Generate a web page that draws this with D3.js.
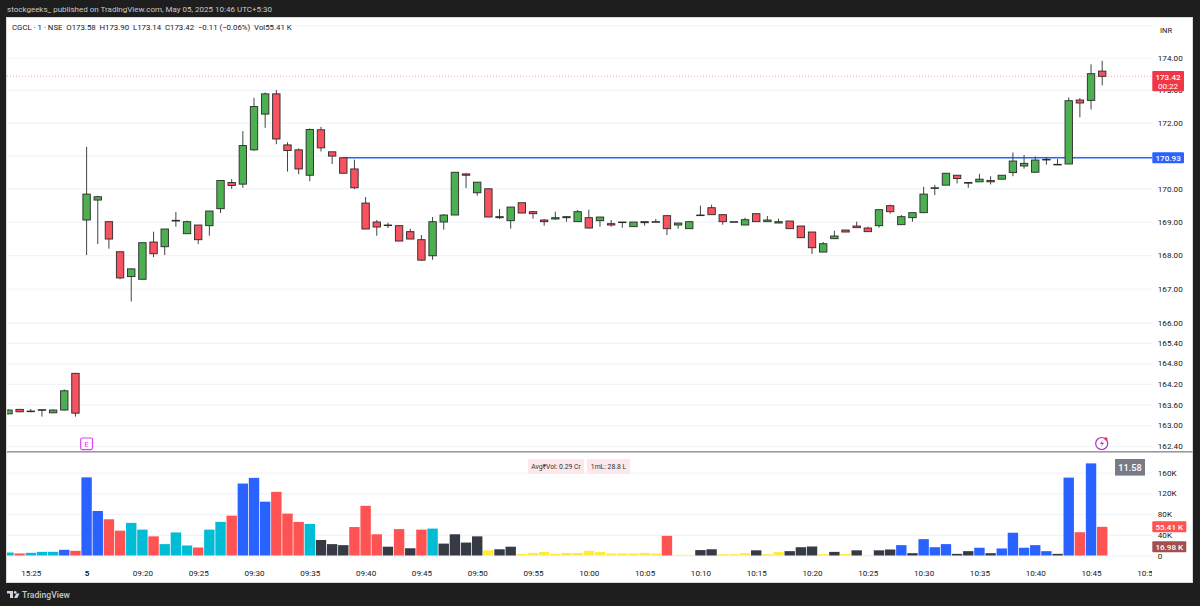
<!DOCTYPE html>
<html><head><meta charset="utf-8">
<script src="https://cdn.jsdelivr.net/npm/d3@7/dist/d3.min.js"></script>
<style>html,body{margin:0;padding:0;background:#1e1e1e;overflow:hidden}svg{display:block}text{font-family:Roboto,"Open Sans",sans-serif}</style>
</head><body><svg id="c" width="1200" height="606"></svg>
<script>
// bars start seven minutes before the 09:15 open of May 5
const opens=[163.33,163.46,163.41,163.45,163.36,163.44,164.51,
169.05,169.65,169.00,168.10,167.36,167.28,168.39,168.25,169.02,168.64,168.90,168.88,169.39,170.18,170.13,171.17,172.26,172.88,171.32,171.17,
170.40,171.78,171.11,170.93,170.59,169.56,168.99,168.90,168.88,168.70,168.46,167.98,168.99,169.20,170.44,169.87,169.99,169.12,169.03,169.57,
169.30,169.05,169.08,169.12,169.00,169.12,169.03,168.94,168.99,168.85,168.97,168.99,169.18,168.90,168.79,169.20,169.42,169.21,169.00,168.90,
169.24,169.00,168.96,169.02,168.87,168.69,168.09,168.49,168.75,168.87,168.81,168.88,169.48,168.91,169.12,169.27,170.02,170.10,170.40,170.18,
170.20,170.24,170.28,170.48,170.68,170.49,170.88,170.73,170.74,172.69,172.68,173.58];
const highs=[163.46,163.47,163.47,163.46,163.46,164.04,164.52,
171.26,169.78,169.00,168.10,167.60,168.37,168.70,168.78,169.29,169.03,168.90,169.32,170.24,170.28,171.74,172.76,172.92,173.00,171.40,171.21,
171.82,171.87,171.11,170.93,170.87,169.74,169.05,168.97,168.88,168.79,168.60,169.14,169.23,170.49,170.45,170.19,169.99,169.38,169.44,169.57,
169.32,169.08,169.30,169.16,169.35,169.36,169.14,169.05,168.99,168.99,169.00,169.08,169.18,168.96,169.00,169.48,169.51,169.21,169.00,169.12,
169.24,169.17,169.09,169.02,168.87,168.69,168.39,168.73,168.75,169.00,168.85,169.36,169.51,169.20,169.27,170.05,170.11,170.46,170.40,170.18,
170.44,170.37,170.40,171.09,171.01,170.97,170.95,170.89,172.77,172.75,173.79,173.90];
const lows=[163.32,163.38,163.38,163.25,163.35,163.43,163.25,
168.00,168.33,168.19,167.28,166.62,167.28,167.94,168.00,168.85,168.64,168.33,168.58,169.26,169.99,170.02,171.14,171.84,171.34,170.51,170.43,
170.22,171.12,170.74,170.46,169.98,168.78,168.58,168.81,168.42,168.48,167.83,167.86,168.76,169.20,170.01,169.78,169.14,169.08,168.79,169.26,
169.09,168.88,169.06,169.00,169.00,168.79,168.85,168.85,168.82,168.85,168.88,168.99,168.60,168.79,168.79,169.20,169.21,168.91,169.00,168.90,
169.00,169.00,168.96,168.79,168.52,168.03,168.09,168.49,168.69,168.82,168.70,168.82,169.24,168.91,169.00,169.27,169.80,170.10,170.15,170.02,
170.20,170.12,170.28,170.37,170.60,170.49,170.72,170.73,170.74,172.16,172.40,173.14];
const closes=[163.44,163.39,163.41,163.45,163.44,164.00,163.35,
169.83,169.75,168.48,167.32,167.59,168.37,168.04,168.78,169.04,169.00,168.46,169.32,170.24,170.09,171.30,172.49,172.88,171.50,171.15,170.59,
171.79,171.23,170.98,170.46,170.02,168.78,168.84,168.90,168.42,168.48,167.85,169.00,169.20,170.49,170.40,170.19,169.14,169.15,169.44,169.26,
169.24,169.00,169.12,169.15,169.30,168.81,169.14,168.90,168.99,168.99,169.00,169.00,168.79,168.96,169.00,169.20,169.21,169.00,169.00,169.06,
169.00,169.05,169.00,168.79,168.52,168.22,168.34,168.57,168.69,168.82,168.70,169.36,169.30,169.15,169.27,169.83,170.02,170.46,170.30,170.16,
170.28,170.20,170.40,170.83,170.76,170.86,170.88,170.73,172.67,172.60,173.50,173.42];
const volumes=[5.8,3.9,5.2,7.1,7.1,11,9,
151,86,70,48,63,50,37,22,44.5,19.4,15.5,50,65,77,139,150,104,123,81,65,
61,30,22,20,55,96,41,17,51,14,50,52,23,41,25,37,10,12,17,
3.2,5,7,3.2,5,5,9,7,3.9,3.9,3.9,5,3.9,38,1.3,1.3,10.5,
12,2.6,2.6,4.5,10,2.6,6.5,8.4,16,17.4,2.6,7,3.2,10,0.6,10,11.6,
20,4.5,31.6,16,22,3.2,8.4,15,4.5,13.6,44,15,20,8.4,3.2,150.5,45,178,55.41];
const volumeClass=["mid","sell","mid","mid","mid","surge","sell",
"surge","surge","sell","sell","mid","mid","sell","mid","mid","mid","sell","mid","mid","sell","surge","surge","surge","sell","sell","sell",
"mid","low","low","low","sell","sell","sell","low","sell","low","sell","mid","low","low","low","low","thin","low","low",
"thin","thin","thin","thin","thin","thin","thin","thin","thin","thin","thin","thin","thin","sell","thin","thin","low",
"low","thin","thin","thin","low","thin","thin","low","low","low","thin","low","thin","low","thin","low","low",
"surge","low","surge","surge","surge","low","low","surge","low","surge","surge","surge","surge","surge","low","surge","sell","surge","sell"];
const priceLabels=[174,172,170,169,168,167,166,165.4,164.8,164.2,163.6,163,162.4];
const priceGrid=[175,174,173,172,171,170,169,168,167,166,165.4,164.8,164.2,163.6,163,162.4];
const hiddenLabelPrices=[173];
const volumeTicks=[0,40,80,120,160];
const timeTicks=[-5,0,5,10,15,20,25,30,35,40,45,50,55,60,65,70,75,80,85,90,95];
const timeLabels=["15:25","5","09:20","09:25","09:30","09:35","09:40","09:45","09:50","09:55","10:00","10:05","10:10","10:15","10:20","10:25","10:30","10:35","10:40","10:45","10:50"];
const levelPrice=170.93, levelStart=23, lastPrice=173.42, lastVolume=55.41, avgVolume=16.98;

const C={bg:"#1e1e1e",text:"#131722",grid:"#f0f3fa",up:"#4caf50",down:"#f7525f",wick:"#444",
 border:"#2a2a2a",blue:"#2962ff",tag:"#f23645"};
const volColor={surge:"#2962ff",sell:"#ff5252",mid:"#00bcd4",low:"#363a45",thin:"#ffeb3b"};
const AXF=8.1;

const L=7,R=1152,RE=1192.5;
const svg=d3.select("#c");
const defs=svg.append("defs");
defs.append("clipPath").attr("id","plot").append("rect").attr("x",L).attr("y",18).attr("width",R-L).attr("height",564);
svg.append("rect").attr("width",1200).attr("height",606).attr("fill",C.bg);
svg.append("rect").attr("x",6.5).attr("y",17.5).attr("width",RE-6.5).attr("height",565).attr("fill","#fff").attr("stroke","#d9d9d9");

const x=d3.scaleLinear().domain([0,91]).range([86.6,1102.2]);
const y=d3.scaleLog().domain([162.4,174]).range([446,57.5]);
const v=d3.scaleLinear().domain([0,160]).range([555.5,472.7]);
const idx=i=>i-7;

// grids
svg.append("g").attr("transform",`translate(${L},0)`)
 .call(d3.axisRight(y).tickValues(priceGrid).tickSize(R-L).tickFormat(""))
 .call(g=>g.select(".domain").remove())
 .call(g=>g.selectAll("line").attr("stroke",C.grid).attr("stroke-width",1.2));
svg.append("g").attr("transform",`translate(${L},0)`)
 .call(d3.axisRight(v).tickValues(volumeTicks).tickSize(R-L).tickFormat(""))
 .call(g=>g.select(".domain").remove())
 .call(g=>g.selectAll("line").attr("stroke",C.grid).attr("stroke-width",1.2));

// last price dotted line
svg.append("line").attr("x1",L).attr("x2",R).attr("y1",y(lastPrice)).attr("y2",y(lastPrice))
 .attr("stroke","#f7a0a8").attr("stroke-dasharray","1 2");

// level line
svg.append("line").attr("x1",x(levelStart)).attr("x2",R).attr("y1",y(levelPrice)).attr("y2",y(levelPrice))
 .attr("stroke",C.blue).attr("stroke-width",1.4);

// candles
const bars=d3.range(opens.length);
const cg=svg.append("g").attr("clip-path","url(#plot)");
cg.selectAll("line.w").data(bars).join("line").attr("class","w")
 .attr("x1",i=>x(idx(i))).attr("x2",i=>x(idx(i))).attr("y1",i=>y(highs[i])).attr("y2",i=>y(lows[i]))
 .attr("stroke",C.wick).attr("stroke-width",1);
const BW=7.4;
cg.selectAll("rect.b").data(bars).join("rect").attr("class","b")
 .attr("x",i=>x(idx(i))-BW/2).attr("width",BW)
 .attr("y",i=>Math.min(y(opens[i]),y(closes[i])))
 .attr("height",i=>Math.max(0.6,Math.abs(y(opens[i])-y(closes[i]))))
 .attr("fill",i=>closes[i]>=opens[i]?C.up:C.down)
 .attr("stroke",C.border).attr("stroke-width",0.9);

// volume bars
const VW=10.4;
cg.selectAll("rect.v").data(bars).join("rect").attr("class","v")
 .attr("x",i=>x(idx(i))-VW/2).attr("width",VW)
 .attr("y",i=>v(volumes[i])).attr("height",i=>v(0)-v(volumes[i]))
 .attr("fill",i=>volColor[volumeClass[i]]);

// pane divider
svg.append("rect").attr("x",7).attr("y",451).attr("width",RE-7).attr("height",1.6).attr("fill","#9a9a9a");

// price labels
svg.append("g").attr("transform",`translate(${R+5.8},0)`)
 .call(d3.axisRight(y).tickValues(priceLabels.concat(hiddenLabelPrices)).tickSize(0).tickPadding(0).tickFormat(d3.format(".2f")))
 .call(g=>g.select(".domain").remove())
 .call(g=>g.selectAll("text").attr("fill",C.text).attr("font-size",AXF));
svg.append("g").attr("transform",`translate(${R+5.8},0)`)
 .call(d3.axisRight(v).tickValues(volumeTicks).tickSize(0).tickPadding(0).tickFormat(d=>d?d+"K":"0"))
 .call(g=>g.select(".domain").remove())
 .call(g=>g.selectAll("text").attr("fill",C.text).attr("font-size",AXF));

// time axis
defs.append("clipPath").attr("id","tclip").append("rect").attr("x",L).attr("y",560).attr("width",R-L).attr("height",22);
svg.append("g").attr("clip-path","url(#tclip)").append("g").attr("transform","translate(0,573)")
 .call(d3.axisBottom(x).tickValues(timeTicks).tickSize(0).tickPadding(0).tickFormat((d,i)=>timeLabels[i]))
 .call(g=>g.select(".domain").remove())
 .call(g=>g.selectAll("text").attr("fill",C.text).attr("font-size",AXF).attr("dy",2.9)
   .attr("font-weight",(d)=>d===0?700:400));

// tags
function tag(yc,h,fill,label,w){
 const g=svg.append("g");
 g.append("rect").attr("x",R+0.3).attr("y",yc-h/2).attr("width",w||31.7).attr("height",h).attr("rx",1).attr("fill",fill);
 g.append("text").attr("x",R+0.3+(w||31.7)/2).attr("y",yc+2.9).attr("text-anchor","middle").attr("fill","#fff").attr("font-size",AXF).attr("font-weight",500).text(label);
}
svg.append("rect").attr("x",R+0.3).attr("y",71).attr("width",31.7).attr("height",20.3).attr("rx",1).attr("fill",C.tag);
svg.append("text").attr("x",R+16).attr("y",80).attr("text-anchor","middle").attr("fill","#fff").attr("font-size",AXF).attr("font-weight",500).text("173.42");
svg.append("text").attr("x",R+16).attr("y",89).attr("text-anchor","middle").attr("fill","#fff").attr("font-size",AXF).text("00:22");
tag(y(levelPrice),10.8,C.blue,"170.93");
tag(v(lastVolume),11,"#ff5252","55.41 K",34);
tag(v(avgVolume),11,"#a34f50","16.98 K",34);

// indicator value box
svg.append("rect").attr("x",1115).attr("y",459).attr("width",30).attr("height",16.6).attr("fill","#787b86");
svg.append("text").attr("x",1130).attr("y",470.6).attr("text-anchor","middle").attr("fill","#fff").attr("font-size",9.2).attr("font-weight",500).text("11.58");

// chips
[["Avg₹Vol: 0.29 Cr",528,56],["1mL: 28.8 L",587,43]].forEach(([t,a,w])=>{
 svg.append("rect").attr("x",a).attr("y",459).attr("width",w).attr("height",15).attr("fill","#fce8ea");
 svg.append("text").attr("x",a+w/2).attr("y",469.2).attr("text-anchor","middle").attr("fill","#333").attr("font-size",6.8).text(t);
});

// header texts
svg.append("text").attr("x",7).attr("y",12).attr("fill","#c9c9c9").attr("font-size",8).text("stockgeeks_ published on TradingView.com, May 05, 2025 10:46 UTC+5:30");
svg.append("text").attr("x",12).attr("y",30.3).attr("fill",C.text).attr("font-size",7.8)
  .attr("xml:space","preserve").style("white-space","pre").text("CGCL · 1 · NSE  O173.58  H173.90  L173.14  C173.42  −0.11 (−0.06%)  Vol55.41 K");
svg.append("text").attr("x",1160).attr("y",33).attr("fill",C.text).attr("font-size",7.5).text("INR");

// markers
svg.append("rect").attr("x",80.7).attr("y",438).attr("width",11.8).attr("height",11.6).attr("rx",1.5).attr("fill","#fff").attr("stroke","#e040fb").attr("stroke-width",1.2);
svg.append("text").attr("x",86.6).attr("y",447.2).attr("text-anchor","middle").attr("fill","#e040fb").attr("font-size",8).text("E");
svg.append("circle").attr("cx",1101.7).attr("cy",443.5).attr("r",6).attr("fill","#fff").attr("stroke","#a832c8").attr("stroke-width",1.2);
svg.append("path").attr("d","M1103 439.5L1100 444H1102.3L1100.6 447.6L1104 442.8H1101.7Z").attr("fill","#a832c8");
svg.append("circle").attr("cx",1106).attr("cy",438.8).attr("r",1.6).attr("fill","#f23645");

// footer brand
svg.append("path").attr("d","M7 591H13V598H10V593.5H7ZM16.6 592.4A1.4 1.4 0 1 1 16.6 592.39ZM14 598L16.3 593.5H19.6L17.3 598Z").attr("fill","#d1d4dc");
svg.append("text").attr("x",22).attr("y",597.5).attr("fill","#c8c8c8").attr("font-size",8.6).attr("font-weight",500).text("TradingView");
</script></body></html>
